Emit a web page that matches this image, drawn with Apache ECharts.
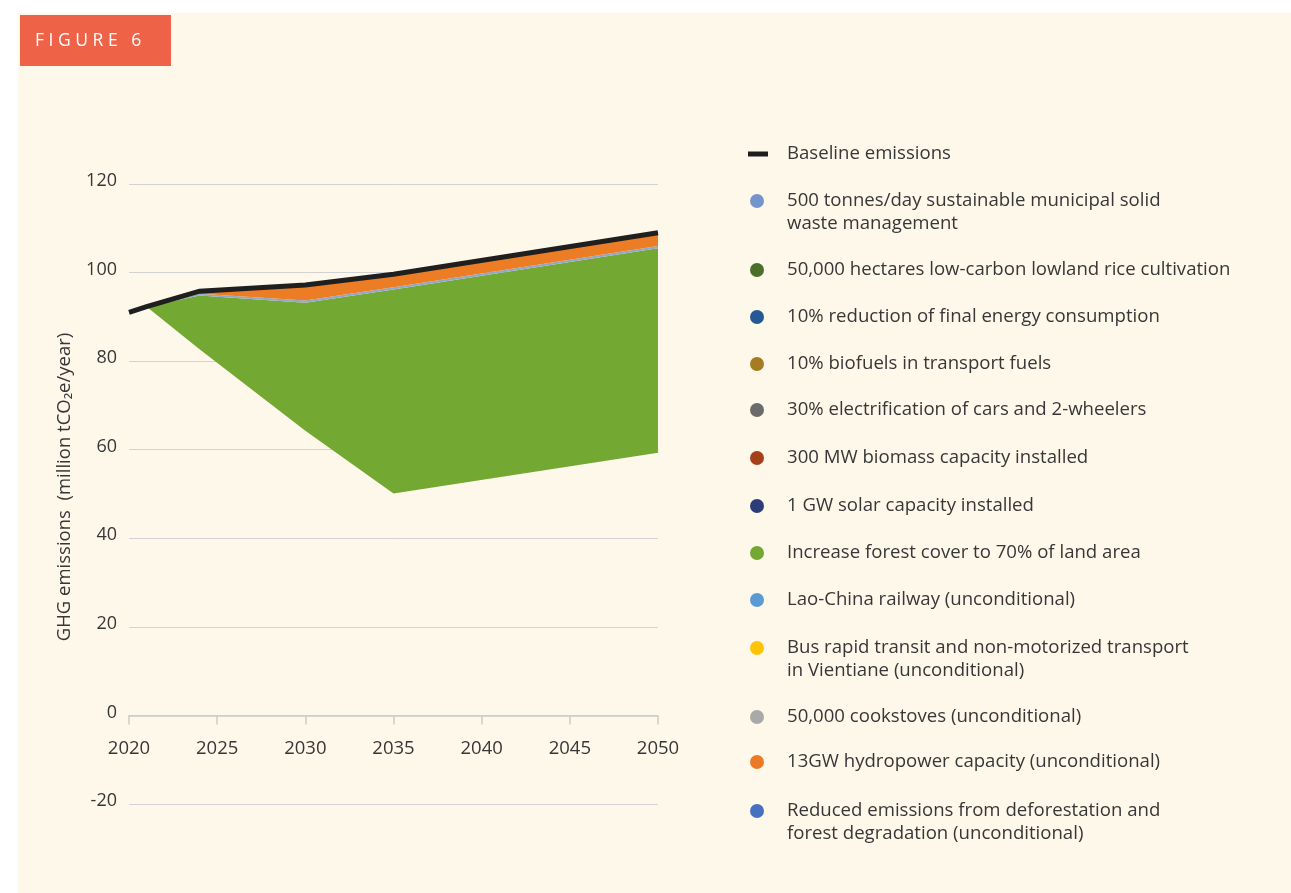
<!DOCTYPE html>
<html>
<head>
<meta charset="utf-8">
<script src="https://cdn.jsdelivr.net/npm/echarts@6/dist/echarts.min.js"></script>
<style>
  html, body { margin: 0; padding: 0; background: #ffffff; }
  #panel { position: absolute; left: 18px; top: 13px; width: 1273px; height: 880px; background: #FEF8EB; }
  #chart { position: absolute; left: 0; top: 0; width: 1291px; height: 893px; }
</style>
</head>
<body>
<div id="panel"></div>
<div id="chart"></div>
<script>
// ---- Data (million tCO2e/year) ----
const years = [2020, 2021, 2024, 2030, 2035, 2050];
const baselineEmissions = [91.0, 92.3, 95.8, 97.2, 99.6, 109.0];
// reductions (band thickness) below the baseline
const hydropowerReduction = [0, 0, 0.6, 3.5, 2.9, 3.0];
const railwayReduction = [0, 0, 0.4, 0.5, 0.5, 0.5];
const forestReduction = [0, 0, 12.1, 28.9, 46.1, 46.2];

const xTicks = [2020, 2025, 2030, 2035, 2040, 2045, 2050];
const yTicks = [-20, 0, 20, 40, 60, 80, 100, 120];

const legendNames = [
  'Baseline emissions',
  '500 tonnes/day sustainable municipal solid\nwaste management',
  '50,000 hectares low-carbon lowland rice cultivation',
  '10% reduction of final energy consumption',
  '10% biofuels in transport fuels',
  '30% electrification of cars and 2-wheelers',
  '300 MW biomass capacity installed',
  '1 GW solar capacity installed',
  'Increase forest cover to 70% of land area',
  'Lao-China railway (unconditional)',
  'Bus rapid transit and non-motorized transport\nin Vientiane (unconditional)',
  '50,000 cookstoves (unconditional)',
  '13GW hydropower capacity (unconditional)',
  'Reduced emissions from deforestation and\nforest degradation (unconditional)'
];
const legendColors = [
  '#1e1e1e', '#7594CC', '#4B6E2B', '#275896', '#A67C22', '#6B6B6B', '#A4401A',
  '#2B3E79', '#73A833', '#5B9BD5', '#FFC305', '#A9A9A9', '#EB7A26', '#4671C3'
];
// ---- layout (icon centre y for each legend entry) ----
const legendIconY = [154, 201, 270, 317, 364, 410, 458, 506, 553, 600, 648, 717, 762, 811];

const netEmissions = baselineEmissions.map((b, i) =>
  b - hydropowerReduction[i] - railwayReduction[i] - forestReduction[i]);

// data as [value, year] with encode so that the stacked dimension is the y value
const pairs = arr => years.map((y, i) => [arr[i], y]);
const ENC = { x: 1, y: 0 };

const FONT = '"Open Sans", Lato, "Noto Sans", sans-serif';
const TEXT = '#373737';

const series = [];
series.push({
  name: '__net', type: 'line', stack: 'w', data: pairs(netEmissions), encode: ENC,
  showSymbol: false, lineStyle: { width: 0 }, areaStyle: { color: 'rgba(0,0,0,0)' },
  silent: true, z: 2
});
series.push({
  name: legendNames[8], type: 'line', stack: 'w', data: pairs(forestReduction), encode: ENC,
  color: legendColors[8], showSymbol: false, lineStyle: { width: 0 },
  areaStyle: { color: '#73A832', opacity: 1 }, z: 2
});
series.push({
  name: legendNames[9], type: 'line', stack: 'w', data: pairs(railwayReduction), encode: ENC,
  color: legendColors[9], showSymbol: false, lineStyle: { width: 0 },
  areaStyle: { color: '#8FA8CB', opacity: 1 }, z: 2
});
series.push({
  name: legendNames[12], type: 'line', stack: 'w', data: pairs(hydropowerReduction), encode: ENC,
  color: legendColors[12], showSymbol: false, lineStyle: { width: 0 },
  areaStyle: { color: '#EC7D24', opacity: 1 }, z: 2
});
series.push({
  name: legendNames[0], type: 'line', data: pairs(baselineEmissions), encode: ENC,
  color: legendColors[0], showSymbol: false,
  lineStyle: { width: 5, color: '#1f1f1f', join: 'miter' }, z: 5
});
// remaining legend-only entries
[1, 2, 3, 4, 5, 6, 7, 10, 11, 13].forEach(k => {
  series.push({ name: legendNames[k], type: 'line', data: [], color: legendColors[k] });
});

const LH = 23;
const legends = legendNames.map((name, k) => {
  const twoLine = name.indexOf('\n') >= 0;
  const isLine = k === 0;
  const boxH = twoLine ? LH * 3 : LH;
  return {
    data: [{ name: name, icon: isLine ? 'rect' : 'circle' }],
    left: isLine ? 748 : 750,
    top: legendIconY[k] - boxH / 2,
    padding: 0,
    itemWidth: isLine ? 20 : 14, itemHeight: isLine ? 5 : 14,
    itemGap: 0,
    selectedMode: false,
    formatter: n => (n.indexOf('\n') >= 0 ? '\n' + n : n),
    textStyle: {
      fontFamily: FONT, fontSize: 18.6, color: TEXT, lineHeight: LH,
      padding: [0, 0, 0, isLine ? 14 : 18]
    }
  };
});

const chart = echarts.init(document.getElementById('chart'), null, { renderer: 'canvas' });
chart.setOption({
  backgroundColor: 'transparent',
  animation: false,
  grid: { left: 129, right: 633, top: 184, bottom: 89, containLabel: false },
  xAxis: {
    type: 'value', min: xTicks[0], max: xTicks[xTicks.length - 1], interval: 5,
    offset: -88.6,
    axisLine: { onZero: false, lineStyle: { color: '#cccccc', width: 1.5 } },
    axisTick: { show: true, length: 9, lineStyle: { color: '#cccccc', width: 1.5 } },
    splitLine: { show: false },
    axisLabel: { margin: 24, fontFamily: FONT, fontSize: 18.5, color: TEXT, formatter: v => String(v) }
  },
  yAxis: {
    type: 'value', min: yTicks[0], max: yTicks[yTicks.length - 1], interval: 20,
    name: 'GHG emissions  (million tCO\u2082e/year)',
    nameLocation: 'middle', nameGap: 55, nameRotate: 90,
    nameTextStyle: { fontFamily: FONT, fontSize: 18.5, color: TEXT, padding: [0, 0, 0, 14] },
    axisLine: { show: false }, axisTick: { show: false },
    splitLine: { lineStyle: { color: '#d2d2d2', width: 1 } },
    axisLabel: { margin: 12, fontFamily: FONT, fontSize: 18, color: TEXT, verticalAlign: 'bottom', padding: [0, 0, -6, 0] }
  },
  legend: legends,
  graphic: [{
    type: 'group', left: 20, top: 15,
    children: [
      { type: 'rect', shape: { x: 0, y: 0, width: 151, height: 51 }, style: { fill: '#EE6247' } },
      { type: 'text', x: 15, y: 26, style: { text: 'F I G U R E   6', fill: '#ffffff', font: '400 17.5px ' + FONT, verticalAlign: 'middle' } }
    ]
  }],
  series: series
});
</script>
</body>
</html>
